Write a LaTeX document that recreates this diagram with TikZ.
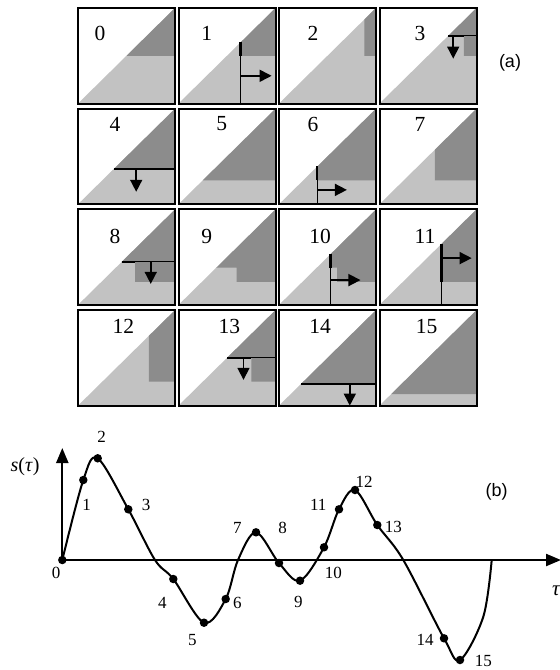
\documentclass[tikz,border=0pt]{standalone}
\usepackage{fontspec}
\setmainfont{Liberation Serif}
\newfontfamily\labsans{Liberation Sans}
\usetikzlibrary{arrows.meta}
\definecolor{lightg}{HTML}{C2C2C2}
\definecolor{darkg}{HTML}{8C8C8C}
\begin{document}
\begin{tikzpicture}[x=1pt,y=-1pt,
  tile/.style 2 args={shift={(78+100.5*#1,103.5+100.7*#2)},x={(97pt,0pt)},y={(0pt,95.5pt)}},
  tilebox/.style={draw=black,line width=2pt},
  cutthick/.style={line width=2.2pt,line cap=butt},
  cutthin/.style={line width=0.9pt},
  tarrow/.style={line width=1.6pt,-{Triangle[length=12pt,width=12pt]}},
  tilenum/.style={font=\fontsize{21.5}{21.5}\selectfont,inner sep=0pt},
  graphnum/.style={font=\fontsize{17}{17}\selectfont,inner sep=0pt},
  dot/.style={circle,fill=black,inner sep=0pt,minimum size=8.5pt},
  axis/.style={line width=2.2pt,-{Triangle[length=15pt,width=12pt]}},
  curve/.style={line width=2pt},
  partlabel/.style={font=\labsans\fontsize{18}{18}\selectfont,inner sep=0pt}
]
\useasboundingbox (0,0) rectangle (560,670);

% ---------- tiles ----------
% Tile 0
\begin{scope}[tile={0}{0}]
\fill[lightg] (0,0)--(1,0)--(1,1)--cycle;
\fill[darkg] (0.5,0.5)--(1,1)--(1,0.5)--cycle;
\draw[tilebox] (0,0) rectangle (1,1);
\end{scope}
% Tile 1
\begin{scope}[tile={1}{0}]
\fill[lightg] (0,0)--(1,0)--(1,1)--cycle;
\fill[darkg] (0.64,0.64)--(1,1)--(1,0.5)--(0.64,0.5)--cycle;
\draw[cutthick] (0.64,0.64)--(0.64,0.5);
\draw[cutthin] (0.64,0.5)--(0.64,0);
\draw[tarrow] (0.64,0.29)--(0.96,0.29);
\draw[tilebox] (0,0) rectangle (1,1);
\end{scope}
% Tile 2
\begin{scope}[tile={2}{0}]
\fill[lightg] (0,0)--(1,0)--(1,1)--cycle;
\fill[darkg] (0.88,0.88)--(1,1)--(1,0.5)--(0.88,0.5)--cycle;
\draw[tilebox] (0,0) rectangle (1,1);
\end{scope}
% Tile 3
\begin{scope}[tile={3}{0}]
\fill[lightg] (0,0)--(1,0)--(1,1)--cycle;
\fill[darkg] (0.71,0.71)--(1,1)--(1,0.5)--(0.87,0.5)--(0.87,0.71)--cycle;
\draw[cutthick] (0.71,0.71)--(0.87,0.71);
\draw[cutthin] (0.87,0.71)--(1,0.71);
\draw[tarrow] (0.76,0.71)--(0.76,0.47);
\draw[tilebox] (0,0) rectangle (1,1);
\end{scope}
% Tile 4
\begin{scope}[tile={0}{1}]
\fill[lightg] (0,0)--(1,0)--(1,1)--cycle;
\fill[darkg] (0.37,0.37)--(1,1)--(1,0.37)--cycle;
\draw[cutthick] (0.37,0.37)--(1,0.37);
\draw[tarrow] (0.6,0.37)--(0.6,0.13);
\draw[tilebox] (0,0) rectangle (1,1);
\end{scope}
% Tile 5
\begin{scope}[tile={1}{1}]
\fill[lightg] (0,0)--(1,0)--(1,1)--cycle;
\fill[darkg] (0.25,0.25)--(1,1)--(1,0.25)--cycle;
\draw[tilebox] (0,0) rectangle (1,1);
\end{scope}
% Tile 6
\begin{scope}[tile={2}{1}]
\fill[lightg] (0,0)--(1,0)--(1,1)--cycle;
\fill[darkg] (0.395,0.395)--(1,1)--(1,0.25)--(0.395,0.25)--cycle;
\draw[cutthick] (0.395,0.395)--(0.395,0.25);
\draw[cutthin] (0.395,0.25)--(0.395,0);
\draw[tarrow] (0.395,0.15)--(0.70,0.15);
\draw[tilebox] (0,0) rectangle (1,1);
\end{scope}
% Tile 7
\begin{scope}[tile={3}{1}]
\fill[lightg] (0,0)--(1,0)--(1,1)--cycle;
\fill[darkg] (0.57,0.57)--(1,1)--(1,0.25)--(0.57,0.25)--cycle;
\draw[tilebox] (0,0) rectangle (1,1);
\end{scope}
% Tile 8
\begin{scope}[tile={0}{2}]
\fill[lightg] (0,0)--(1,0)--(1,1)--cycle;
\fill[darkg] (0.45,0.45)--(1,1)--(1,0.24)--(0.59,0.24)--(0.59,0.45)--cycle;
\draw[cutthick] (0.45,0.45)--(0.59,0.45);
\draw[cutthin] (0.59,0.45)--(1,0.45);
\draw[tarrow] (0.75,0.45)--(0.75,0.22);
\draw[tilebox] (0,0) rectangle (1,1);
\end{scope}
% Tile 9
\begin{scope}[tile={1}{2}]
\fill[lightg] (0,0)--(1,0)--(1,1)--cycle;
\fill[darkg] (0.39,0.39)--(1,1)--(1,0.24)--(0.60,0.24)--(0.60,0.39)--cycle;
\draw[tilebox] (0,0) rectangle (1,1);
\end{scope}
% Tile 10
\begin{scope}[tile={2}{2}]
\fill[lightg] (0,0)--(1,0)--(1,1)--cycle;
\fill[darkg] (0.53,0.53)--(1,1)--(1,0.24)--(0.60,0.24)--(0.60,0.39)--(0.53,0.39)--cycle;
\draw[cutthick] (0.53,0.53)--(0.53,0.39);
\draw[cutthin] (0.53,0.39)--(0.53,0);
\draw[tarrow] (0.53,0.26)--(0.84,0.26);
\draw[tilebox] (0,0) rectangle (1,1);
\end{scope}
% Tile 11
\begin{scope}[tile={3}{2}]
\fill[lightg] (0,0)--(1,0)--(1,1)--cycle;
\fill[darkg] (0.64,0.64)--(1,1)--(1,0.24)--(0.64,0.24)--cycle;
\draw[cutthick] (0.64,0.64)--(0.64,0.24);
\draw[cutthin] (0.64,0.24)--(0.64,0);
\draw[tarrow] (0.64,0.49)--(0.95,0.49);
\draw[tilebox] (0,0) rectangle (1,1);
\end{scope}
% Tile 12
\begin{scope}[tile={0}{3}]
\fill[lightg] (0,0)--(1,0)--(1,1)--cycle;
\fill[darkg] (0.73,0.73)--(1,1)--(1,0.25)--(0.73,0.25)--cycle;
\draw[tilebox] (0,0) rectangle (1,1);
\end{scope}
% Tile 13
\begin{scope}[tile={1}{3}]
\fill[lightg] (0,0)--(1,0)--(1,1)--cycle;
\fill[darkg] (0.5,0.5)--(1,1)--(1,0.25)--(0.75,0.25)--(0.75,0.5)--cycle;
\draw[cutthick] (0.5,0.5)--(0.75,0.5);
\draw[cutthin] (0.75,0.5)--(1,0.5);
\draw[tarrow] (0.67,0.5)--(0.67,0.27);
\draw[tilebox] (0,0) rectangle (1,1);
\end{scope}
% Tile 14
\begin{scope}[tile={2}{3}]
\fill[lightg] (0,0)--(1,0)--(1,1)--cycle;
\fill[darkg] (0.23,0.23)--(1,1)--(1,0.23)--cycle;
\draw[cutthick] (0.23,0.23)--(1,0.23);
\draw[tarrow] (0.73,0.23)--(0.73,0.0);
\draw[tilebox] (0,0) rectangle (1,1);
\end{scope}
% Tile 15
\begin{scope}[tile={3}{3}]
\fill[lightg] (0,0)--(1,0)--(1,1)--cycle;
\fill[darkg] (0.12,0.12)--(1,1)--(1,0.12)--cycle;
\draw[tilebox] (0,0) rectangle (1,1);
\end{scope}

% tile numbers
\node[tilenum] (n0) at (100,33) {0};
\node[tilenum] (n1) at (206.7,33) {1};
\node[tilenum] (n2) at (313,33) {2};
\node[tilenum] (n3) at (420,33) {3};
\node[tilenum] (n4) at (115,124) {4};
\node[tilenum] (n5) at (221.7,124) {5};
\node[tilenum] (n6) at (313,124) {6};
\node[tilenum] (n7) at (420,124) {7};
\node[tilenum] (n8) at (115,236.7) {8};
\node[tilenum] (n9) at (206.7,236.7) {9};
\node[tilenum] (n10) at (320,236.7) {10};
\node[tilenum] (n11) at (425,236.7) {11};
\node[tilenum] (n12) at (123.3,326.7) {12};
\node[tilenum] (n13) at (229.3,326.7) {13};
\node[tilenum] (n14) at (320,326.7) {14};
\node[tilenum] (n15) at (426.7,326.7) {15};

\node[partlabel] (la) at (510,63) {(a)};
\node[partlabel] (lb) at (496.7,491.7) {(b)};

% ---------- graph ----------
\coordinate (O) at (62.3,560);
\coordinate (ytop) at (62.3,448);
\coordinate (xend) at (561,560);
\draw[axis] (O) -- (ytop);
\draw[axis] (O) -- (xend);

\node[font=\fontsize{20}{20}\selectfont,inner sep=0pt] (slab) at (25,466.7) {\textit{s}(\textit{τ})};
\node[font=\fontsize{21}{21}\selectfont\itshape,inner sep=0pt] (taulab) at (556,591) {τ};

\coordinate (c1) at (155,560);
\coordinate (c2) at (238,560);
\coordinate (c4) at (403.3,560);
\coordinate (q1) at (483.3,616.7);
\coordinate (c5) at (491.7,560);

\node[dot] (p0) at (62.3,560) {};
\node[dot] (p1) at (83.3,480) {};
\node[dot] (p2) at (97.7,458.3) {};
\node[dot] (p3) at (128.3,509.3) {};
\node[dot] (p4) at (173.3,579) {};
\node[dot] (p5) at (204,622.7) {};
\node[dot] (p6) at (225.7,599) {};
\node[dot] (p7) at (256,532.3) {};
\node[dot] (p8) at (279,563) {};
\node[dot] (p9) at (300,580.7) {};
\node[dot] (p10) at (324,547.3) {};
\node[dot] (p11) at (339,509.3) {};
\node[dot] (p12) at (355,490) {};
\node[dot] (p13) at (377.3,525) {};
\node[dot] (p14) at (444,638.3) {};
\node[dot] (p15) at (460,660) {};

\draw[curve] plot[smooth,tension=0.55] coordinates {(p0.center) (p1.center) (p2.center) (p3.center) (c1) (p4.center) (p5.center) (p6.center) (c2) (p7.center) (p8.center) (p9.center) (p10.center) (p11.center) (p12.center) (p13.center) (c4) (p14.center) (p15.center) (q1) (c5)};

\node[graphnum] (g0) at (56,573.3) {0};
\node[graphnum] (g1) at (86.7,505) {1};
\node[graphnum] (g2) at (101.7,436.7) {2};
\node[graphnum] (g3) at (146,505) {3};
\node[graphnum] (g4) at (162.3,603.3) {4};
\node[graphnum] (g5) at (192.3,640) {5};
\node[graphnum] (g6) at (237.3,603.3) {6};
\node[graphnum] (g7) at (237.3,528.3) {7};
\node[graphnum] (g8) at (282.7,528.3) {8};
\node[graphnum] (g9) at (298.3,601.7) {9};
\node[graphnum] (g10) at (333.3,572.7) {10};
\node[graphnum] (g11) at (318.3,505) {11};
\node[graphnum] (g12) at (364,481.7) {12};
\node[graphnum] (g13) at (393.3,527.3) {13};
\node[graphnum] (g14) at (425,640) {14};
\node[graphnum] (g15) at (483.3,661) {15};
\end{tikzpicture}
\end{document}
